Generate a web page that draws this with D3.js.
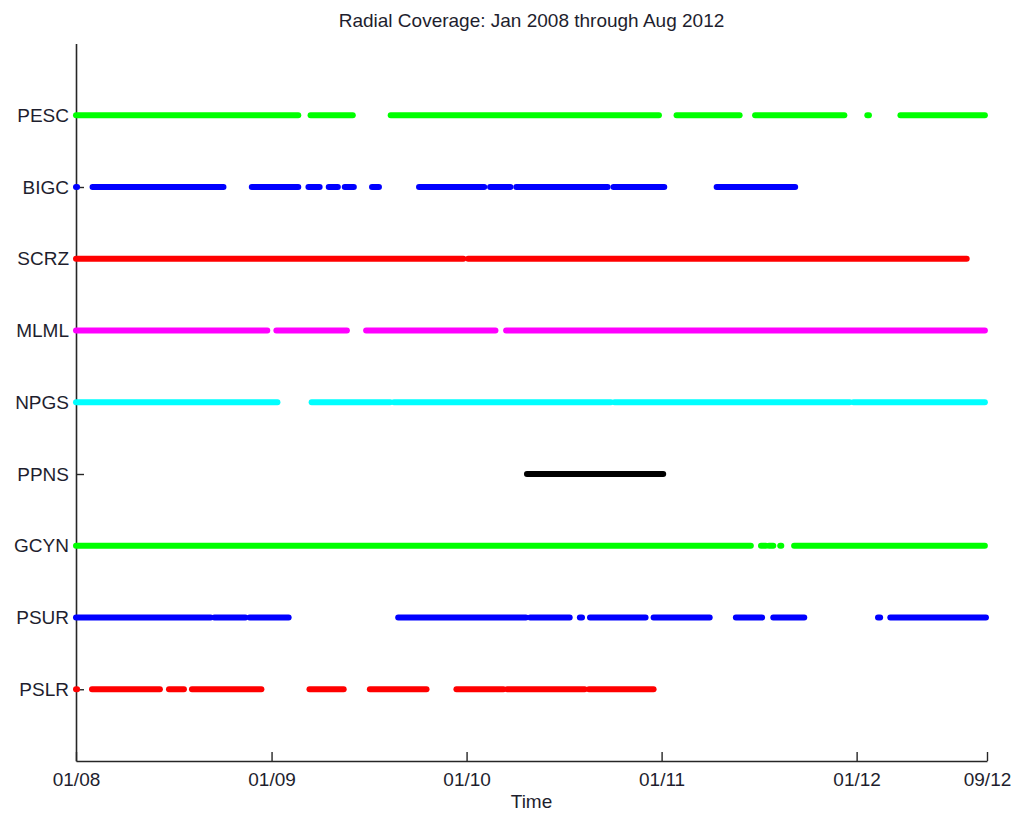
<!DOCTYPE html>
<html>
<head>
<meta charset="utf-8">
<script src="https://cdn.jsdelivr.net/npm/d3@7"></script>
<style>
  body { margin: 0; background: #fff; }
  text { font-family: "Liberation Sans", Arial, sans-serif; fill: #1e1e2e; }
</style>
</head>
<body>
<div id="chart"></div>
<script>
const stations = ["PESC", "BIGC", "SCRZ", "MLML", "NPGS", "PPNS", "GCYN", "PSUR", "PSLR"];
const colors = ["#00ff00", "#0000ff", "#ff0000", "#ff00ff", "#00ffff", "#000000", "#00ff00", "#0000ff", "#ff0000"];

// coverage periods per station, [start, end]
const PESC = [["2008-01-01", "2009-02-20"], ["2009-03-15", "2009-06-02"], ["2009-08-12", "2010-12-27"],
  ["2011-01-29", "2011-05-27"], ["2011-06-25", "2011-12-09"], ["2012-01-21", "2012-01-24"], ["2012-03-23", "2012-08-28"]];
const BIGC = [["2008-01-01", "2008-01-03"], ["2008-02-01", "2008-10-03"], ["2008-11-25", "2009-02-20"],
  ["2009-03-11", "2009-04-01"], ["2009-04-18", "2009-05-05"], ["2009-05-18", "2009-06-04"], ["2009-07-08", "2009-07-21"],
  ["2009-10-04", "2010-02-03"], ["2010-02-14", "2010-03-24"], ["2010-04-04", "2010-09-22"], ["2010-10-03", "2011-01-06"],
  ["2011-04-14", "2011-09-08"]];
const SCRZ = [["2008-01-01", "2009-12-26"], ["2010-01-04", "2012-07-25"]];
const MLML = [["2008-01-01", "2008-12-24"], ["2009-01-10", "2009-05-22"], ["2009-06-27", "2010-02-24"], ["2010-03-16", "2012-08-28"]];
const NPGS = [["2008-01-01", "2009-01-12"], ["2009-03-17", "2009-08-11"], ["2009-08-18", "2010-09-28"],
  ["2010-10-05", "2011-12-19"], ["2011-12-26", "2012-08-28"]];
const PPNS = [["2010-04-24", "2011-01-04"]];
const GCYN = [["2008-01-01", "2011-06-17"], ["2011-07-06", "2011-07-15"], ["2011-07-21", "2011-07-29"],
  ["2011-08-11", "2011-08-13"], ["2011-09-06", "2012-08-28"]];
const PSUR = [["2008-01-01", "2008-09-09"], ["2008-09-16", "2008-11-13"], ["2008-11-21", "2009-02-02"],
  ["2009-08-26", "2010-04-22"], ["2010-04-30", "2010-07-13"], ["2010-08-01", "2010-08-05"], ["2010-08-20", "2010-12-02"],
  ["2010-12-17", "2011-04-01"], ["2011-05-20", "2011-07-08"], ["2011-07-29", "2011-09-25"], ["2012-02-10", "2012-02-14"],
  ["2012-03-04", "2012-08-30"]];
const PSLR = [["2008-01-01", "2008-01-03"], ["2008-01-31", "2008-06-06"], ["2008-06-23", "2008-07-21"],
  ["2008-08-05", "2008-12-13"], ["2009-03-13", "2009-05-16"], ["2009-07-04", "2009-10-18"], ["2009-12-13", "2010-03-11"],
  ["2010-03-18", "2010-08-10"], ["2010-08-18", "2010-12-17"]];
const coverage = [PESC, BIGC, SCRZ, MLML, NPGS, PPNS, GCYN, PSUR, PSLR];

const tickDates = ["2008-01-01", "2009-01-01", "2010-01-01", "2011-01-01", "2012-01-01", "2012-09-01"];
const tickFormat = d3.timeFormat("%m/%y");

const width = 1016, height = 815;
const margin = { top: 43.5, right: 29, bottom: 54, left: 76 };
const parse = d3.timeParse("%Y-%m-%d");

const svg = d3.select("#chart").append("svg").attr("width", width).attr("height", height);

const x = d3.scaleTime()
  .domain([parse("2008-01-01"), parse("2012-09-01")])
  .range([margin.left, width - margin.right]);
const y = d3.scaleLinear()
  .domain([0, 10])
  .range([height - margin.bottom, margin.top]);

// stations from top (9) to bottom (1)
const yPos = i => y(stations.length - i);

// x axis, ticks inside
const xAxis = svg.append("g")
  .attr("transform", `translate(0,${height - margin.bottom})`)
  .call(d3.axisBottom(x).tickValues(tickDates.map(parse)).tickFormat(tickFormat).tickSizeInner(-9).tickSizeOuter(0).tickPadding(12));
xAxis.select(".domain").attr("stroke", "#262626").attr("stroke-width", 1.6);
xAxis.selectAll(".tick line").attr("stroke", "#262626").attr("stroke-width", 1.4);
xAxis.selectAll(".tick text").style("font-size", "19px").attr("fill", "#1e1e3a");

// y axis, ticks inside
const yAxis = svg.append("g")
  .attr("transform", `translate(${margin.left},0)`)
  .call(d3.axisLeft(y).tickValues(d3.range(1, stations.length + 1)).tickFormat(d => stations[stations.length - d])
    .tickSizeInner(-8).tickSizeOuter(0).tickPadding(8));
yAxis.select(".domain").attr("stroke", "#262626").attr("stroke-width", 1.6);
yAxis.selectAll(".tick line").attr("stroke", "#262626").attr("stroke-width", 1.4);
yAxis.selectAll(".tick text").style("font-size", "19px").attr("fill", "#1e1e2e").attr("x", -7);

// coverage segments
coverage.forEach((segs, i) => {
  svg.append("g").selectAll("line")
    .data(segs)
    .join("line")
    .attr("x1", d => x(parse(d[0])))
    .attr("x2", d => x(parse(d[1])))
    .attr("y1", yPos(i))
    .attr("y2", yPos(i))
    .attr("stroke", colors[i])
    .attr("stroke-width", 6)
    .attr("stroke-linecap", "round");
});

const cx = (margin.left + width - margin.right) / 2;
svg.append("text").attr("x", cx).attr("y", 27)
  .attr("text-anchor", "middle").style("font-size", "19px")
  .text("Radial Coverage: Jan 2008 through Aug 2012");

svg.append("text").attr("x", cx).attr("y", 808)
  .attr("text-anchor", "middle").style("font-size", "19px")
  .text("Time");
</script>
</body>
</html>
